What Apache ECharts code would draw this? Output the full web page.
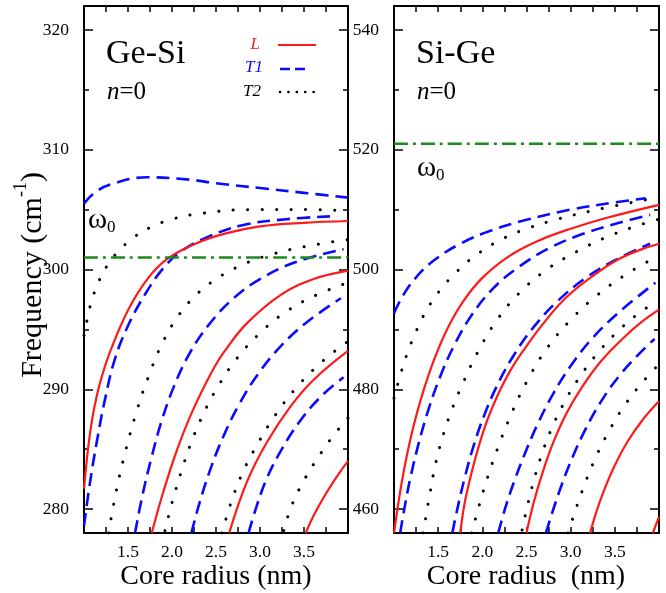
<!DOCTYPE html>
<html lang="en">
<head>
    <meta charset="UTF-8">
    <title>Ge-Si / Si-Ge</title>
    <style>
        html, body { margin: 0; padding: 0; background: #fff; }
        #main { width: 666px; height: 593px; }
    </style>
</head>
<body>
    <div id="main"></div>
    <script src="https://cdn.jsdelivr.net/npm/echarts@6.0.0/dist/echarts.min.js"></script>
    <script>
        // ---- Ge-Si panel: [core radius (nm), frequency (cm-1)] ----
        var geOmega0 = 301;
        var geL1 = [[1.0,281.7],[1.05,285.3],[1.1,287.8],[1.15,289.6],[1.2,291.0],[1.3,293.2],[1.5,296.6],[1.72,299.2],[1.95,300.9],[2.28,302.2],[2.6,303.0],[3.0,303.6],[3.5,303.9],[4.0,304.05]];
        var geL2 = [[1.77,278],[1.9,281.4],[2.06,285],[2.24,288.3],[2.47,291.7],[2.6,293.2],[2.85,295.5],[3.24,297.9],[3.61,299.2],[4.0,299.9]];
        var geL3 = [[2.65,278],[2.85,282.25],[3.08,285.6],[3.35,288.6],[3.61,290.8],[4.0,293.2]];
        var geL4 = [[3.52,278],[3.62,279.6],[3.75,281.3],[3.9,283.0],[4.0,284.0]];
        var geT1a = [[1.0,305.5],[1.12,306.4],[1.3,307.1],[1.72,307.7],[2.2,307.5],[2.5,307.2],[3.0,306.8],[3.5,306.4],[4.0,306.0]];
        var geT1b = [[1.0,278.6],[1.07,282.3],[1.15,285.8],[1.24,289.2],[1.35,292.5],[1.5,295.3],[1.7,298.0],[1.9,300.1],[2.1,301.5],[2.4,302.7],[2.8,303.7],[3.3,304.2],[3.85,304.45]];
        var geT1c = [[1.58,278],[1.66,281],[1.76,284.1],[1.88,287.3],[2.02,290.2],[2.2,293.0],[2.42,295.4],[2.7,297.6],[3.0,299.2],[3.4,300.6],[3.95,301.7]];
        var geT1d = [[2.22,278],[2.32,280.7],[2.44,283.4],[2.58,286.0],[2.76,288.7],[2.98,291.3],[3.25,293.7],[3.55,295.7],[3.92,297.6]];
        var geT1e = [[2.87,278],[2.96,280.2],[3.08,282.6],[3.24,284.9],[3.44,287.2],[3.68,289.3],[3.95,291.0]];
        var geT2a = [[1.0,294.5],[1.05,296.3],[1.1,297.7],[1.18,299.2],[1.28,300.5],[1.4,301.6],[1.55,302.6],[1.75,303.5],[2.0,304.2],[2.35,304.7],[2.9,305.0],[3.5,305.0],[4.0,304.9]];
        var geT2b = [[1.28,278],[1.35,280.9],[1.45,284.2],[1.6,288.2],[1.75,291.4],[1.9,294],[2.06,296],[2.25,297.7],[2.5,299.2],[2.8,300.4],[3.1,301.2],[3.5,301.9],[4.0,302.5]];
        var geT2c = [[1.92,278.2],[2.0,280.5],[2.1,283.0],[2.22,285.6],[2.36,288.0],[2.52,290.2],[2.74,292.6],[3.0,294.7],[3.3,296.5],[3.65,297.9],[4.0,298.9]];
        var geT2d = [[2.57,278],[2.66,280.3],[2.8,283.0],[2.97,285.4],[3.17,287.8],[3.42,290.2],[3.72,292.4],[4.0,294.0]];
        var geT2e = [[3.27,278.2],[3.36,280.3],[3.5,282.4],[3.65,284.2],[3.82,286.0],[4.0,287.6]];

        // ---- Si-Ge panel ----
        var sgOmega0 = 521;
        var sgL1 = [[1.0,456],[1.06,462],[1.13,467.8],[1.22,473.8],[1.33,479.6],[1.45,484.8],[1.6,490],[1.78,494.6],[2.0,498.6],[2.3,502.2],[2.65,504.9],[3.0,506.8],[3.4,508.6],[4.0,510.8]];
        var sgL2 = [[1.75,456],[1.8,461],[1.88,466.2],[1.96,470.5],[2.06,475],[2.18,479.2],[2.32,483.2],[2.48,486.8],[2.68,490.8],[2.94,495.2],[3.24,498.8],[3.54,501.7],[3.81,503.4],[4.0,504.3]];
        var sgL3 = [[2.5,456],[2.58,461],[2.68,466],[2.8,471.0],[2.95,475.9],[3.13,480.4],[3.35,484.8],[3.6,488.6],[3.8,491.2],[4.0,493.3]];
        var sgL4 = [[3.22,456],[3.29,459.5],[3.38,463.2],[3.5,467.3],[3.65,471.4],[3.82,475.0],[4.0,478.0]];
        var sgL5 = [[3.93,456],[4.0,458.7]];
        var sgT1a = [[1.0,492.7],[1.1,495.6],[1.25,498.7],[1.45,501.5],[1.75,504.3],[2.1,506.5],[2.5,508.3],[3.0,510.0],[3.5,511.2],[3.85,511.9]];
        var sgT1b = [[1.07,456],[1.12,460.3],[1.19,465.5],[1.28,471.0],[1.39,476.6],[1.52,482.0],[1.68,487.3],[1.88,492.4],[2.12,496.8],[2.4,500.3],[2.75,503.5],[3.15,506.0],[3.55,507.8],[3.9,509.1]];
        var sgT1c = [[1.66,456],[1.72,460.2],[1.8,465.2],[1.9,470.5],[2.02,475.6],[2.16,480.4],[2.34,485.3],[2.56,490.0],[2.85,494.7],[3.2,498.9],[3.55,501.9],[3.9,504.3]];
        var sgT1d = [[2.18,456],[2.26,460.2],[2.36,464.6],[2.48,469.2],[2.62,474.0],[2.8,479.2],[3.0,483.9],[3.25,488.6],[3.55,492.9],[3.96,497.8]];
        var sgT1e = [[2.72,456],[2.8,459.8],[2.9,464.1],[3.02,468.6],[3.17,473.4],[3.35,478.1],[3.57,482.6],[3.8,486.3],[3.95,488.4]];
        var sgT2a = [[1.0,478.5],[1.08,482.8],[1.16,486.4],[1.26,490.0],[1.38,493.5],[1.52,496.5],[1.7,499.5],[1.92,502.3],[2.2,504.9],[2.5,506.8],[2.85,508.4],[3.3,510.0],[3.94,511.9]];
        var sgT2b = [[1.33,456],[1.4,462],[1.47,467.5],[1.56,472.5],[1.66,476.8],[1.78,481],[1.94,486],[2.14,491],[2.4,495.8],[2.73,500],[3.07,503],[3.39,505.3],[3.73,507.2],[4.0,508.4]];
        var sgT2c = [[1.88,456],[1.96,460.4],[2.06,465.3],[2.18,470.4],[2.32,475.6],[2.5,481.2],[2.72,486.6],[3.0,491.6],[3.3,495.7],[3.65,499.4],[3.97,502.1]];
        var sgT2d = [[2.45,456.5],[2.51,460.5],[2.58,464.6],[2.67,469.0],[2.78,473.3],[2.92,477.6],[3.1,482.0],[3.32,486.3],[3.57,490.2],[3.8,493.0],[3.97,494.6]];
        var sgT2e = [[2.97,456],[3.05,459.6],[3.15,463.8],[3.28,468.5],[3.44,473.2],[3.62,477.5],[3.82,481.3],[4.0,484.2]];

        // ---- tick positions ----
        var xTicks = [1.25, 1.5, 1.75, 2.0, 2.25, 2.5, 2.75, 3.0, 3.25, 3.5, 3.75];
        var xLabels = [1.5, 2.0, 2.5, 3.0, 3.5];
        var geYLabels = [280, 290, 300, 310, 320];
        var geYMinor = [285, 295, 305, 315];
        var sgYLabels = [460, 480, 500, 520, 540];
        var sgYMinor = [470, 490, 510, 530];

        var FONT = 'Liberation Serif';
        var RED = '#ff1a1a', BLUE = '#0a0aff', BLACK = '#000', GREEN = '#1b8a1b';

        var myChart = echarts.init(document.getElementById('main'));

        function xAx(grid, pos, withLabels) {
            return {
                type: 'value', gridIndex: grid, position: pos, min: 1, max: 4,
                splitLine: { show: false },
                axisLine: { show: true, onZero: false, lineStyle: { color: '#000', width: 2 } },
                axisTick: { show: true, inside: true, length: 6, customValues: xTicks, lineStyle: { color: '#000', width: 1.5 } },
                axisLabel: {
                    show: withLabels, customValues: xLabels, margin: 10,
                    fontFamily: FONT, fontSize: 17.5, color: '#000',
                    formatter: function (v) { return v.toFixed(1); }
                }
            };
        }
        function yAx(grid, pos, lo, hi, ticks, len, withLabels) {
            return {
                type: 'value', gridIndex: grid, position: pos, min: lo, max: hi,
                splitLine: { show: false },
                axisLine: { show: true, onZero: false, lineStyle: { color: '#000', width: 2 } },
                axisTick: { show: true, inside: true, length: len, customValues: ticks, lineStyle: { color: '#000', width: 1.5 } },
                axisLabel: { show: withLabels, customValues: ticks, margin: 15, fontFamily: FONT, fontSize: 17.5, color: '#000' }
            };
        }

        var series = [];
        function addCurve(data, kind, xi, yi) {
            var ls;
            if (kind === 'L') ls = { color: RED, width: 2.2, type: 'solid' };
            else if (kind === 'T1') ls = { color: BLUE, width: 2.6, type: [13, 7] };
            else if (kind === 'T2') ls = { color: BLACK, width: 3, type: [0.1, 14.4], cap: 'round' };
            else ls = { color: GREEN, width: 2.4, type: [14, 5, 3, 5] };
            series.push({
                type: 'line', data: data, xAxisIndex: xi, yAxisIndex: yi,
                showSymbol: false, smooth: 0.4, clip: true,
                lineStyle: ls, silent: true, animation: false
            });
        }

        [geT2a, geT2b, geT2c, geT2d, geT2e].forEach(function (d) { addCurve(d, 'T2', 0, 0); });
        [geT1a, geT1b, geT1c, geT1d, geT1e].forEach(function (d) { addCurve(d, 'T1', 0, 0); });
        [geL1, geL2, geL3, geL4].forEach(function (d) { addCurve(d, 'L', 0, 0); });
        addCurve([[1, geOmega0], [4, geOmega0]], 'W', 0, 0);

        [sgT2a, sgT2b, sgT2c, sgT2d, sgT2e].forEach(function (d) { addCurve(d, 'T2', 2, 4); });
        [sgT1a, sgT1b, sgT1c, sgT1d, sgT1e].forEach(function (d) { addCurve(d, 'T1', 2, 4); });
        [sgL1, sgL2, sgL3, sgL4, sgL5].forEach(function (d) { addCurve(d, 'L', 2, 4); });
        addCurve([[1, sgOmega0], [4, sgOmega0]], 'W', 2, 4);

        var titleRich = {
            a: { fontFamily: FONT, fontSize: 30, lineHeight: 36, verticalAlign: 'bottom' },
            s: { fontFamily: FONT, fontSize: 18, lineHeight: 36, verticalAlign: 'top' }
        };
        var omegaRich = {
            w: { fontFamily: FONT, fontSize: 29, lineHeight: 32, verticalAlign: 'middle' },
            s: { fontFamily: FONT, fontSize: 17, lineHeight: 32, verticalAlign: 'bottom' }
        };
        var nRich = {
            i: { fontFamily: FONT, fontSize: 25, fontStyle: 'italic' },
            r: { fontFamily: FONT, fontSize: 25 }
        };

        function txt(x, y, text, extra) {
            var st = { text: text, fontFamily: FONT, fill: '#000', align: 'left', verticalAlign: 'middle' };
            for (var k in extra) st[k] = extra[k];
            return { type: 'text', x: x, y: y, silent: true, style: st };
        }
        function seg(x1, x2, y, color, width, dash, cap) {
            return {
                type: 'line', silent: true,
                shape: { x1: x1, y1: y, x2: x2, y2: y },
                style: { stroke: color, lineWidth: width, lineDash: dash, lineCap: cap || 'butt' }
            };
        }

        var option = {
            backgroundColor: '#fff',
            animation: false,
            grid: [
                { left: 84, top: 6, width: 264, height: 527 },
                { left: 394, top: 6, width: 265, height: 527 }
            ],
            xAxis: [xAx(0, 'bottom', true), xAx(0, 'top', false), xAx(1, 'bottom', true), xAx(1, 'top', false)],
            yAxis: [
                yAx(0, 'left', 278, 322, geYLabels, 9, true),
                yAx(0, 'left', 278, 322, geYMinor, 5, false),
                yAx(0, 'right', 278, 322, geYLabels, 9, false),
                yAx(0, 'right', 278, 322, geYMinor, 5, false),
                yAx(1, 'left', 456, 544, sgYLabels, 9, true),
                yAx(1, 'left', 456, 544, sgYMinor, 5, false),
                yAx(1, 'right', 456, 544, sgYLabels, 9, false),
                yAx(1, 'right', 456, 544, sgYMinor, 5, false)
            ],
            series: series,
            graphic: [
                txt(106, 54, 'Ge-Si', { fontSize: 34 }),
                txt(107, 92, '{i|n}{r|=0}', { rich: nRich }),
                txt(88, 220, '{w|ω}{s|0}', { rich: omegaRich }),
                txt(416, 54, 'Si-Ge', { fontSize: 34 }),
                txt(417, 92, '{i|n}{r|=0}', { rich: nRich }),
                txt(417, 168, '{w|ω}{s|0}', { rich: omegaRich }),
                // legend
                txt(260, 45, 'L', { fontSize: 17, fontStyle: 'italic', fill: RED, align: 'right' }),
                seg(278, 316, 45, RED, 2.2, null),
                txt(263, 68, 'T1', { fontSize: 17, fontStyle: 'italic', fill: BLUE, align: 'right' }),
                seg(280, 306, 69, BLUE, 2.6, [10, 5]),
                txt(261, 92, 'T2', { fontSize: 17, fontStyle: 'italic', fill: BLACK, align: 'right' }),
                seg(280, 316, 92, BLACK, 2.6, [0.1, 8.3], 'round'),
                // axis titles
                {
                    type: 'text', x: 30, y: 275, rotation: Math.PI / 2, silent: true,
                    style: { text: '{a|Frequency (cm}{s|-1}{a|)}', rich: titleRich, align: 'center', verticalAlign: 'middle', fill: '#000' }
                },
                txt(216, 577, 'Core radius (nm)', { fontSize: 28, align: 'center' }),
                txt(526, 577, 'Core radius  (nm)', { fontSize: 28, align: 'center' })
            ]
        };
        myChart.setOption(option);
    </script>
</body>
</html>
